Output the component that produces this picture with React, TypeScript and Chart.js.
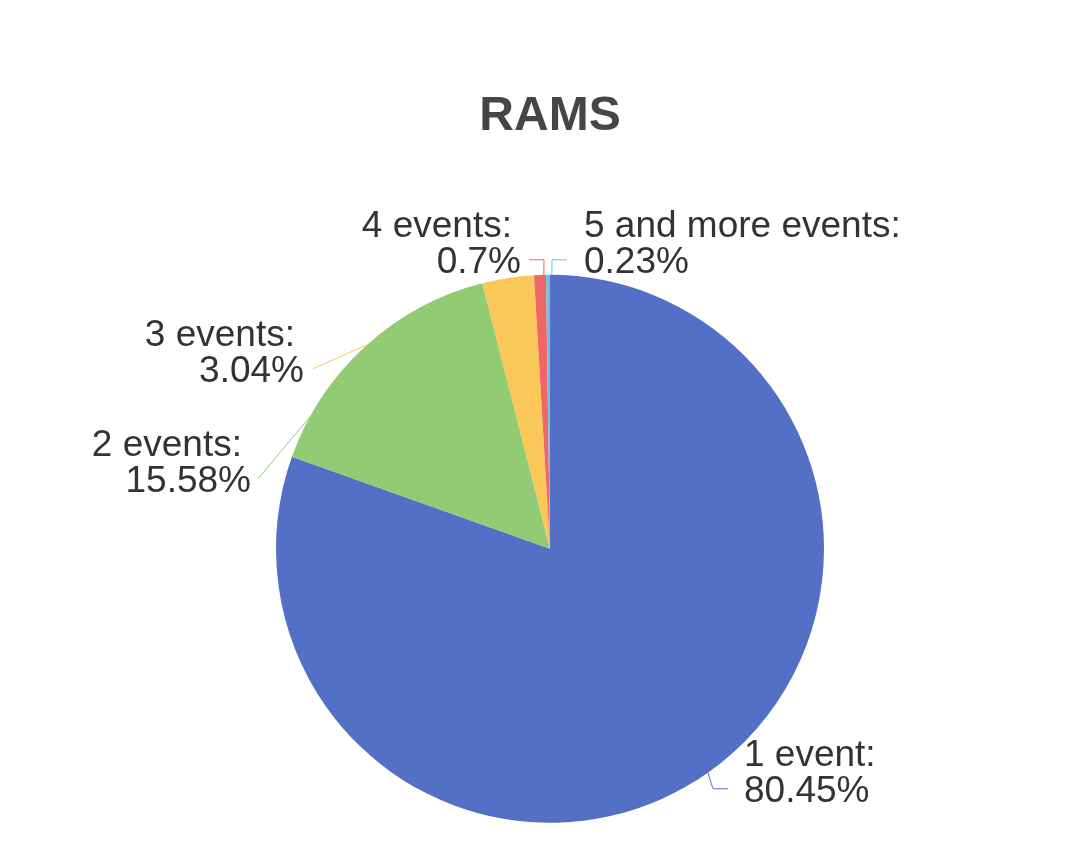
import React, { useEffect, useRef } from "react";
import { Chart, registerables } from "chart.js";

Chart.register(...registerables);

const categories = ["1 event", "2 events", "3 events", "4 events", "5 and more events"];
const percentages = [80.45, 15.58, 3.04, 0.7, 0.23];
const colors = ["#5470c6", "#91cc75", "#fac858", "#ee6666", "#73c0de"];
const titleText = "RAMS";

// Label layout (style only): anchor angle in degrees clockwise from top (null = slice middle),
// elbow / end offsets relative to the pie centre, text horizontal gap.
const labelLayout: any[] = [
  { anchorDeg: null, elbow: [163, 240], end: [178, 240], align: "left", textDx: 16 },
  { anchorDeg: 298.8, elbow: null, end: [-292, -70], align: "right", textDx: -7 },
  { anchorDeg: 318.1, elbow: null, end: [-237, -180], align: "right", textDx: -9 },
  { anchorDeg: 358.7, elbow: [-6, -289], end: [-21, -289], align: "right", textDx: -8 },
  { anchorDeg: 0.4, elbow: [2, -289], end: [17, -289], align: "left", textDx: 17 },
];

const FONT = "37px 'Liberation Sans', Arial, sans-serif";
const LINE_GAP = 36;
const BASELINE_DY = 13;
const COLON_PAD = 9;

const pieLabels = {
  id: "pieLabels",
  afterDatasetsDraw(chart: any) {
    const meta = chart.getDatasetMeta(0);
    const ctx = chart.ctx as CanvasRenderingContext2D;
    meta.data.forEach((arc: any, i: number) => {
      const p = arc.getProps(["x", "y", "startAngle", "endAngle", "outerRadius"], true);
      const L = labelLayout[i];
      const ang =
        L.anchorDeg == null
          ? (p.startAngle + p.endAngle) / 2
          : ((L.anchorDeg - 90) * Math.PI) / 180;
      const ax = p.x + p.outerRadius * Math.cos(ang);
      const ay = p.y + p.outerRadius * Math.sin(ang);
      const ex = p.x + L.end[0];
      const ey = p.y + L.end[1];
      ctx.save();
      ctx.strokeStyle = colors[i];
      ctx.lineWidth = 1;
      ctx.beginPath();
      ctx.moveTo(ax, ay);
      if (L.elbow) ctx.lineTo(p.x + L.elbow[0], p.y + L.elbow[1]);
      ctx.lineTo(ex, ey);
      ctx.stroke();
      ctx.fillStyle = "#333333";
      ctx.font = FONT;
      ctx.textAlign = L.align;
      ctx.textBaseline = "alphabetic";
      const tx = ex + L.textDx;
      const b2 = ey + BASELINE_DY;
      const firstX = L.align === "right" ? tx - COLON_PAD : tx;
      ctx.fillText(categories[i] + ":", firstX, b2 - LINE_GAP);
      ctx.fillText(percentages[i] + "%", tx, b2);
      ctx.restore();
    });
  },
};

export default function App() {
  const ref = useRef<HTMLCanvasElement | null>(null);
  useEffect(() => {
    document.body.style.margin = "0";
    const chart = new Chart(ref.current as HTMLCanvasElement, {
      type: "pie",
      data: {
        labels: categories,
        datasets: [
          {
            data: percentages,
            backgroundColor: colors,
            borderWidth: 0,
          },
        ],
      },
      options: {
        animation: false,
        responsive: true,
        maintainAspectRatio: false,
        layout: { padding: { top: 88, left: 276, right: 262, bottom: 43 } },
        plugins: {
          legend: { display: false },
          tooltip: { enabled: false },
          title: {
            display: true,
            text: titleText,
            color: "#464646",
            font: { family: "'Liberation Sans', Arial, sans-serif", size: 48, weight: "bold" },
            padding: { top: 0, bottom: 129 },
          },
        },
      },
      plugins: [pieLabels],
    } as any);
    return () => chart.destroy();
  }, []);
  return (
    <div style={{ position: "absolute", left: 0, top: 0, width: 1086, height: 866, background: "#fff" }}>
      <canvas ref={ref} />
    </div>
  );
}
